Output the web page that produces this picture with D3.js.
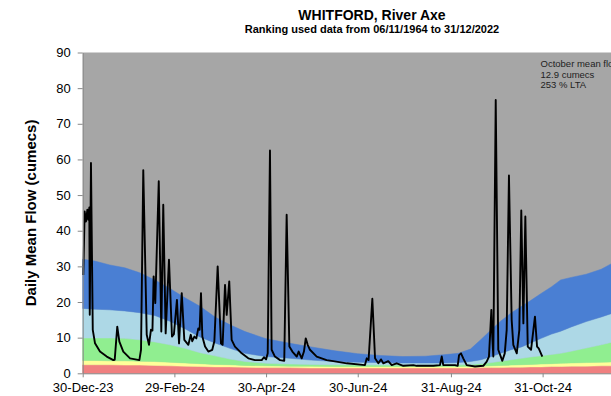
<!DOCTYPE html>
<html>
<head>
<meta charset="utf-8">
<script src="https://cdn.jsdelivr.net/npm/d3@7"></script>
<style>
  html, body { margin: 0; padding: 0; background: #fff; }
  svg { display: block; font-family: "Liberation Sans", Arial, sans-serif; }
</style>
</head>
<body>
<svg id="chart" width="611" height="396"></svg>
<script>
// ---------------- DATA ----------------
// days counted from 30-Dec-2023
const title = "WHITFORD, River Axe";
const subtitle = "Ranking used data from 06/11/1964 to 31/12/2022";
const yLabel = "Daily Mean Flow (cumecs)";
const noteLines = ["October mean flow", "12.9 cumecs", "253 % LTA"];

const xTickDays = [0, 61, 122, 183, 245, 306];
const xTickLabels = ["30-Dec-23", "29-Feb-24", "30-Apr-24", "30-Jun-24", "31-Aug-24", "31-Oct-24"];
const yTicks = [0, 10, 20, 30, 40, 50, 60, 70, 80, 90];

// flow-band boundaries (percentile envelopes)
const bandDay      = [0, 8, 18, 28, 38, 48, 58, 68, 78, 88, 98, 108, 122, 138, 152, 168, 183, 198, 213, 228, 240, 250, 258, 265, 272, 278, 285, 292, 298, 305, 312, 318, 325, 335, 345, 355, 367];
const redTop       = [2.4, 2.4, 2.4, 2.3, 2.3, 2.2, 2.1, 2.0, 1.9, 1.8, 1.8, 1.7, 1.6, 1.6, 1.5, 1.5, 1.5, 1.5, 1.5, 1.5, 1.5, 1.5, 1.5, 1.6, 1.6, 1.6, 1.7, 1.7, 1.8, 1.8, 1.9, 1.9, 2.0, 2.0, 2.1, 2.1, 2.2];
const yellowTop    = [3.6, 3.6, 3.5, 3.5, 3.4, 3.3, 3.1, 2.9, 2.7, 2.5, 2.4, 2.2, 2.1, 2.0, 2.0, 1.9, 1.9, 1.9, 1.9, 1.9, 1.9, 1.9, 2.0, 2.0, 2.1, 2.2, 2.3, 2.4, 2.5, 2.6, 2.7, 2.8, 2.9, 3.0, 3.1, 3.2, 3.3];
const greenTop     = [9.9, 9.9, 9.9, 9.8, 9.4, 8.8, 8.0, 7.0, 5.8, 4.9, 4.0, 3.3, 2.8, 2.6, 2.5, 2.4, 2.4, 2.3, 2.3, 2.3, 2.3, 2.4, 2.5, 2.7, 3.0, 3.4, 3.8, 4.2, 4.6, 4.9, 5.3, 5.6, 6.2, 7.1, 8.0, 9.0, 9.6];
const lightBlueTop = [18.2, 18.0, 17.8, 17.5, 17.0, 16.2, 14.6, 12.5, 10.2, 8.5, 7.0, 5.6, 4.7, 4.2, 3.7, 3.3, 3.1, 3.0, 2.9, 2.9, 2.9, 3.0, 3.3, 3.8, 4.7, 5.6, 6.6, 7.4, 8.5, 9.8, 11.0, 11.8, 13.0, 14.5, 15.8, 17.2, 18.0];
const darkBlueTop  = [32.0, 31.5, 30.4, 29.6, 28.2, 26.2, 23.8, 21.2, 18.8, 15.8, 13.6, 11.7, 9.7, 8.4, 7.4, 6.3, 5.5, 5.0, 4.7, 4.8, 5.2, 5.6, 6.8, 9.5, 12.3, 14.6, 16.9, 18.8, 20.4, 22.4, 24.3, 26.2, 26.9, 27.8, 29.2, 31.5, 32.0];

// daily mean flow (cumecs)
const flowDay = [0.4, 1.3, 2.2, 3.1, 3.7, 4.4, 4.7, 5.5, 6.7, 8.2, 11.5, 16.0, 20.4, 21.3, 23.0, 24.4, 27.0, 31.5, 37.7, 38.8,
  40.3, 42.6, 44.1, 45.4, 46.4, 47.2, 48.3, 50.6, 52.3, 53.6, 55.2, 57.4, 59.4, 60.7, 62.7, 64.1, 65.9, 67.6, 70.3, 71.9,
  72.9, 74.3, 75.6, 76.9, 77.8, 78.7, 79.6, 81.4, 83.6, 86.2, 87.6, 89.8, 92.0, 93.1, 94.7, 95.8, 97.5, 99.1, 101.3, 105.8,
  110.2, 114.6, 119.1, 120.6, 122.0, 123.1, 124.6, 125.7, 127.9, 131.3, 134.1, 135.7, 137.5, 139.5, 142.4, 143.7, 145.7, 147.2, 148.4, 149.7,
  151.2, 155.7, 162.3, 166.7, 175.7, 187.8, 189.0, 190.2, 192.7, 194.5, 196.7, 198.5, 200.0, 203.3, 205.6, 208.9, 213.3, 220.0, 222.2, 233.3,
  237.7, 238.9, 239.9, 247.7, 249.5, 250.4, 251.7, 253.2, 255.5, 261.0, 266.5, 268.8, 270.3, 271.9, 272.5, 273.2, 274.8, 276.5, 279.2, 280.8,
  282.1, 283.6, 285.4, 286.5, 288.8, 290.5, 291.8, 293.2, 294.5, 296.1, 298.3, 300.9, 302.3, 303.4, 305.8];
const flowValue = [27.6, 45.4, 42.6, 45.9, 43.1, 46.5, 16.4, 59.0, 12.2, 8.4, 6.1, 4.7, 3.7, 3.8, 13.1, 8.9, 6.1, 4.2, 3.7, 6.6,
  57.0, 10.8, 8.0, 12.2, 12.0, 27.2, 19.7, 53.9, 11.7, 47.3, 11.2, 31.9, 10.3, 11.0, 20.6, 8.4, 22.5, 9.4, 8.0, 10.8,
  9.0, 10.3, 9.8, 12.6, 12.2, 22.5, 10.3, 7.5, 6.1, 6.6, 9.0, 30.0, 8.4, 8.0, 24.8, 16.4, 25.8, 9.4, 7.5, 5.6,
  4.2, 3.7, 3.7, 4.5, 3.9, 5.6, 62.5, 6.6, 4.7, 3.7, 3.5, 44.5, 7.5, 6.1, 4.7, 6.1, 4.2, 6.1, 9.8, 8.0,
  6.6, 4.7, 3.7, 3.4, 2.8, 2.3, 4.2, 3.7, 20.9, 4.2, 2.8, 3.9, 2.8, 3.4, 2.3, 2.8, 2.1, 2.3, 2.1, 2.1,
  2.3, 4.7, 2.3, 2.3, 2.1, 5.1, 5.6, 4.2, 2.3, 1.9, 2.1, 3.3, 4.7, 17.8, 10.3, 4.7, 76.7, 6.6, 3.5, 5.6,
  12.2, 55.5, 15.0, 8.0, 5.6, 12.2, 45.7, 14.0, 44.0, 7.5, 6.6, 15.9, 7.5, 7.0, 4.7];

// ---------------- CHART ----------------
const startMs = Date.UTC(2023, 11, 30);
const toDate = d => new Date(startMs + d * 864e5);

const svg = d3.select("#chart");
const plotLeft = 82.7, plotTop = 52.5, plotBottom = 373.3;

const x = d3.scaleUtc().domain([toDate(0), toDate(367)]).range([plotLeft, plotLeft + 367 * 1.503]);
const y = d3.scaleLinear().domain([0, 90]).range([plotBottom, plotTop]);

const colors = {
  grey: "#a6a6a6",
  darkBlue: "#4a7fd3",
  lightBlue: "#add8e6",
  green: "#90ee90",
  yellow: "#ffff99",
  red: "#f08080"
};

// background (above highest band)
svg.append("rect")
  .attr("x", x.range()[0]).attr("y", y(90))
  .attr("width", x.range()[1] - x.range()[0]).attr("height", y(0) - y(90))
  .attr("fill", colors.grey);

const bands = [
  { lo: null, hi: redTop, c: colors.red },
  { lo: redTop, hi: yellowTop, c: colors.yellow },
  { lo: yellowTop, hi: greenTop, c: colors.green },
  { lo: greenTop, hi: lightBlueTop, c: colors.lightBlue },
  { lo: lightBlueTop, hi: darkBlueTop, c: colors.darkBlue }
];
bands.forEach(b => {
  const area = d3.area()
    .x((d, i) => x(toDate(bandDay[i])))
    .y0((d, i) => y(b.lo ? b.lo[i] : 0))
    .y1((d, i) => y(b.hi[i]));
  svg.append("path").datum(bandDay).attr("d", area).attr("fill", b.c).attr("stroke", b.c).attr("stroke-width", 0.5);
});

// flow line
const line = d3.line()
  .x((d, i) => x(toDate(flowDay[i])))
  .y((d, i) => y(flowValue[i]));
svg.append("path").datum(flowDay).attr("d", line)
  .attr("fill", "none").attr("stroke", "#000").attr("stroke-width", 1.9)
  .attr("stroke-linejoin", "round");

// axes
const yAxis = d3.axisLeft(y).tickValues(yTicks).tickSize(5).tickPadding(7).tickSizeOuter(0);
const gy = svg.append("g").attr("transform", `translate(${plotLeft},0)`).call(yAxis);
gy.selectAll("text").attr("font-size", 13).attr("fill", "#000").attr("font-family", "Liberation Sans, Arial, sans-serif");
gy.selectAll("line,path").attr("stroke", "#888");

const xAxis = d3.axisBottom(x).tickValues(xTickDays.map(toDate))
  .tickFormat((d, i) => xTickLabels[i]).tickSize(4).tickPadding(5.5).tickSizeOuter(0);
const gx = svg.append("g").attr("transform", `translate(0,${plotBottom})`).call(xAxis);
gx.selectAll("text").attr("font-size", 13).attr("fill", "#000").attr("font-family", "Liberation Sans, Arial, sans-serif");
gx.selectAll("line,path").attr("stroke", "#888");

// titles
svg.append("text").attr("x", 372).attr("y", 20).attr("text-anchor", "middle")
  .attr("font-size", 14).attr("font-weight", "bold").text(title);
svg.append("text").attr("x", 372).attr("y", 33).attr("text-anchor", "middle")
  .attr("font-size", 11).attr("font-weight", "bold").text(subtitle);

// y label
svg.append("text")
  .attr("transform", `translate(36,${(plotTop + plotBottom) / 2}) rotate(-90)`)
  .attr("text-anchor", "middle").attr("font-size", 15).attr("font-weight", "bold")
  .text(yLabel);

// note
const note = svg.append("text").attr("font-size", 9.5).attr("fill", "#222");
noteLines.forEach((t, i) => {
  note.append("tspan").attr("x", 540.5).attr("y", 67 + i * 10.6).text(t);
});
</script>
</body>
</html>
